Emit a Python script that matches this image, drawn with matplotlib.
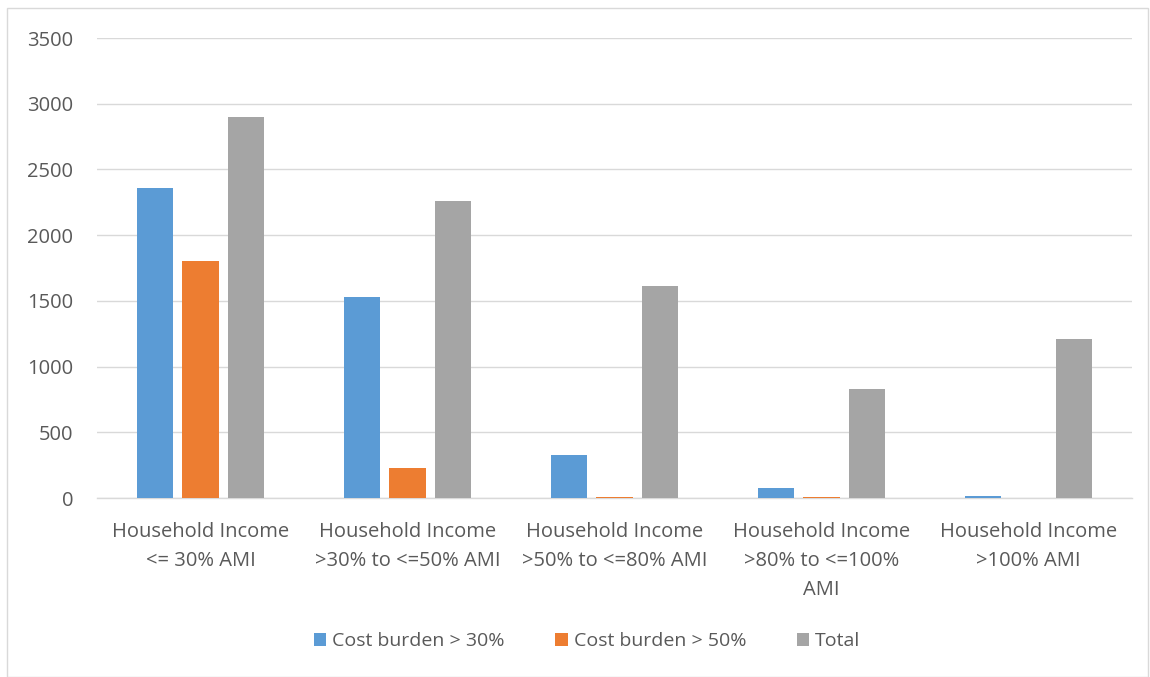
import numpy as np
import matplotlib.pyplot as plt
from matplotlib.patches import Rectangle

categories = ['Household Income\n<= 30% AMI',
              'Household Income\n>30% to <=50% AMI',
              'Household Income\n>50% to <=80% AMI',
              'Household Income\n>80% to <=100%\nAMI',
              'Household Income\n>100% AMI']
burden30 = [2360, 1530, 327, 76, 15]
burden50 = [1805, 228, 8, 8, 0]
total = [2900, 2260, 1613, 830, 1210]

series = [('Cost burden > 30%', burden30, '#5b9bd5'),
          ('Cost burden > 50%', burden50, '#ed7d31'),
          ('Total', total, '#a5a5a5')]

plt.rcParams['font.family'] = ['Open Sans', 'DejaVu Sans']
txt = '#595959'

fig = plt.figure(figsize=(11.5, 6.77), dpi=100)
ax = fig.add_axes([97/1150, 179/677, 1035/1150, 460/677])

x = np.arange(len(categories))
w = 0.174
step = 0.22
for i, (name, vals, col) in enumerate(series):
    ax.bar(x + (i - 1) * step, vals, w, color=col, label=name, zorder=3)

ax.set_xlim(-0.5, len(categories) - 0.5)
ax.set_ylim(0, 3500)
ax.set_yticks(range(0, 3501, 500))
ax.yaxis.grid(True, color='#d9d9d9', linewidth=1, zorder=0)
for s in ['top', 'right', 'left']:
    ax.spines[s].set_visible(False)
ax.spines['bottom'].set_color('#d9d9d9')
ax.spines['bottom'].set_linewidth(1)
ax.set_xticks(x)
ax.set_xticklabels(categories, linespacing=1.62)
ax.tick_params(axis='both', length=0, colors=txt, labelsize=14.5)
ax.tick_params(axis='y', pad=17)
ax.tick_params(axis='x', pad=17)

leg = ax.legend(loc='center', bbox_to_anchor=(587/1150, 1 - 641/677),
                bbox_transform=fig.transFigure, ncol=3, frameon=False,
                fontsize=14, handlelength=0.65, handleheight=0.65,
                handletextpad=0.3, columnspacing=2.6)
for t in leg.get_texts():
    t.set_color(txt)

fig.patches.append(Rectangle((7/1150, 0), 1 - 7/1150 - 2/1150, 1 - 8/677,
                             transform=fig.transFigure, fill=False,
                             edgecolor='#d9d9d9', linewidth=1))

fig.savefig('out.png', dpi=100, facecolor='white')
